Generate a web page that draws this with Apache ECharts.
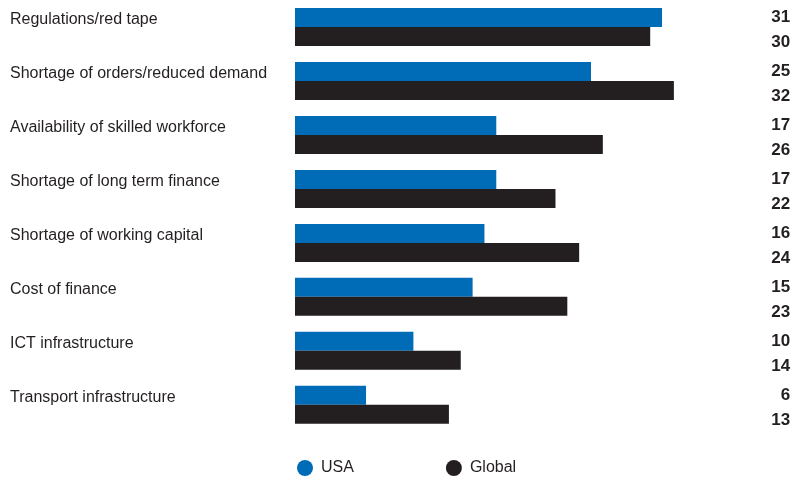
<!DOCTYPE html>
<html><head><meta charset="utf-8">
<script src="https://cdn.jsdelivr.net/npm/echarts@6/dist/echarts.min.js"></script>
<style>html,body{margin:0;padding:0;background:#fff}#c{width:808px;height:477px}</style>
</head><body><div id="c"></div>
<script>
const categories = ["Regulations/red tape","Shortage of orders/reduced demand","Availability of skilled workforce","Shortage of long term finance","Shortage of working capital","Cost of finance","ICT infrastructure","Transport infrastructure"];
const usa = [31,25,17,17,16,15,10,6];
const globalVals = [30,32,26,22,24,23,14,13];
const seriesNames = ["USA","Global"];
const FONT = "'Liberation Sans Narrow', 'Liberation Sans', sans-serif";
const chart = echarts.init(document.getElementById('c'));
chart.setOption({
  animation:false,
  grid:{left:295,right:39.4,top:-2.8,height:434.6,containLabel:false},
  xAxis:{type:'value',min:0,max:40,show:false},
  yAxis:[{
    type:'category',data:categories,inverse:true,
    axisLine:{show:false},axisTick:{show:false},
    axisLabel:{align:'left',margin:285,color:'#231f20',fontFamily:FONT,fontSize:16,
      formatter:v=>'{t|'+v+'}',rich:{t:{fontFamily:FONT,fontSize:16,color:'#231f20',padding:[0,0,14,0]}}}
  },{
    type:'category',data:categories.map((c,i)=>i),inverse:true,position:'right',
    axisLine:{show:false},axisTick:{show:false},
    axisLabel:{align:'right',margin:21.6,
      formatter:(v,i)=>'{n|'+usa[i]+'}\n{n|'+globalVals[i]+'}',
      rich:{n:{fontFamily:FONT,fontSize:17,fontWeight:'bold',color:'#231f20',lineHeight:25,padding:[5,0,0,0]}}}
  }],
  legend:{data:seriesNames,left:292,top:455,icon:'circle',itemWidth:16,itemHeight:16,itemGap:92,
    textStyle:{fontFamily:FONT,fontSize:16,color:'#231f20',padding:[0,0,0,3]}},
  series:[
    {name:seriesNames[0],type:'bar',data:usa,barWidth:19,barGap:'0%',itemStyle:{color:'#006bb6'}},
    {name:seriesNames[1],type:'bar',data:globalVals,barWidth:19,barGap:'0%',itemStyle:{color:'#231f20'}}
  ]
});
</script></body></html>
